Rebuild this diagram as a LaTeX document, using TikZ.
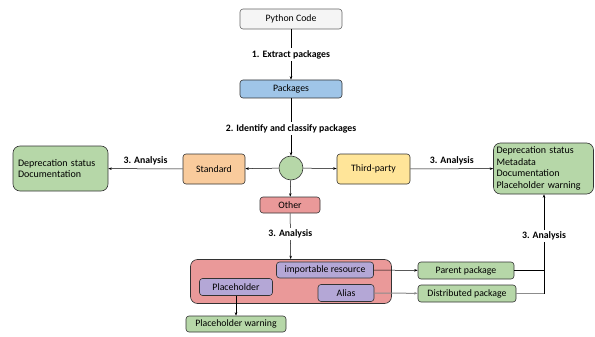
\documentclass[tikz,border=0pt]{standalone}
\usepackage{fontspec}
\setmainfont{Carlito}
\usetikzlibrary{arrows.meta}
\definecolor{cgrey}{HTML}{F5F5F5}
\definecolor{cblue}{HTML}{9FC5E8}
\definecolor{cgreen}{HTML}{B6D7A8}
\definecolor{corange}{HTML}{F9CB9C}
\definecolor{cyellow}{HTML}{FFE599}
\definecolor{cred}{HTML}{EA9999}
\definecolor{cpurple}{HTML}{B4A7D6}
\definecolor{cline}{HTML}{333333}
\tikzset{
  box/.style={draw=cline, line width=0.6pt, rounded corners=3pt, inner sep=1pt, font=\fontsize{9.8}{11}\selectfont, align=center},
  bigbox/.style={draw=cline, line width=0.6pt, rounded corners=7pt, inner sep=4pt, font=\fontsize{10}{11.8}\selectfont, align=left},
  lbl/.style={font=\bfseries\fontsize{9.8}{11}\selectfont, fill=white, inner sep=2pt},
  arr/.style={-{Stealth[length=3.5pt,width=2.5pt]}, line width=0.5pt, draw=black},
  garr/.style={-{Stealth[length=3.5pt,width=2.5pt]}, line width=1pt, draw=black!45},
}
\begin{document}
\begin{tikzpicture}[x=1pt,y=-1pt]
\useasboundingbox (0,0) rectangle (595,337);
% top chain
\node[box, fill=cgrey, draw=black!60, minimum width=102pt, minimum height=20pt] (py) at (291,19) {Python Code};
\node[box, fill=cblue, minimum width=102pt, minimum height=18pt] (pk) at (291,89) {Packages};
\node[draw=cline, fill=cgreen, circle, minimum size=24pt, inner sep=0pt, line width=0.6pt] (c) at (291,168) {};
\node[box, fill=corange, minimum width=62pt, minimum height=30pt] (std) at (214,169) {Standard};
\node[box, fill=cyellow, minimum width=73pt, minimum height=30pt] (tp) at (373.5,169) {Third-party};
\node[bigbox, fill=cgreen, minimum width=95pt, minimum height=45pt, text width=85pt] (lg) at (60.5,168.5) {Deprecation status\\Documentation};
\node[bigbox, fill=cgreen, minimum width=100pt, minimum height=51pt, text width=94pt, inner sep=2pt] (rg) at (543.5,168.5) {Deprecation status\\Metadata\\Documentation\\Placeholder warning};
\node[box, fill=cred, minimum width=60pt, minimum height=16pt] (oth) at (290,205) {Other};
% bottom cluster
\node[draw=cline, fill=cred, rounded corners=7pt, line width=0.6pt, minimum width=201pt, minimum height=44pt] (pink) at (291,281.5) {};
\node[box, fill=cpurple, minimum width=97pt, minimum height=16pt] (imp) at (325,270) {importable resource};
\node[box, fill=cpurple, minimum width=73pt, minimum height=17pt] (ph) at (236,287) {Placeholder};
\node[box, fill=cpurple, minimum width=56pt, minimum height=17pt] (al) at (346,293) {Alias};
\node[box, fill=cgreen, minimum width=100pt, minimum height=16pt] (phw) at (236,324) {Placeholder warning};
\node[box, fill=cgreen, minimum width=96pt, minimum height=17pt] (par) at (466,270.5) {Parent package};
\node[box, fill=cgreen, minimum width=98pt, minimum height=17pt] (dis) at (467,293.5) {Distributed package};
\coordinate (j1) at (544,270.5);
\coordinate (j2) at (544,293.5);
% connectors
\draw[arr] (py) -- node[lbl] {1. Extract packages} (pk);
\draw[arr] (pk) -- node[lbl, pos=0.53] {2. Identify and classify packages} (c);
\draw[arr] (c) -- (std);
\draw[arr] (c) -- (tp);
\draw[arr] (std) -- node[lbl, above=1pt, fill=none] {3. Analysis} (lg);
\draw[arr] (tp) -- node[lbl, above=1pt, fill=none] {3. Analysis} (rg);
\draw[arr] (c) -- (oth);
\draw[arr] (oth) -- node[lbl, pos=0.45] {3. Analysis} (pink);
\draw[arr] (ph) -- (phw);
\draw[arr] (imp) -- (par);
\draw[garr] (al) -- (dis);
\draw[line width=0.5pt] (par) -- (j1);
\draw[garr, -] (dis) -- (j2);
\draw[arr] (j2) -- node[lbl, pos=0.58] {3. Analysis} (rg.south -| j2);
\end{tikzpicture}
\end{document}
